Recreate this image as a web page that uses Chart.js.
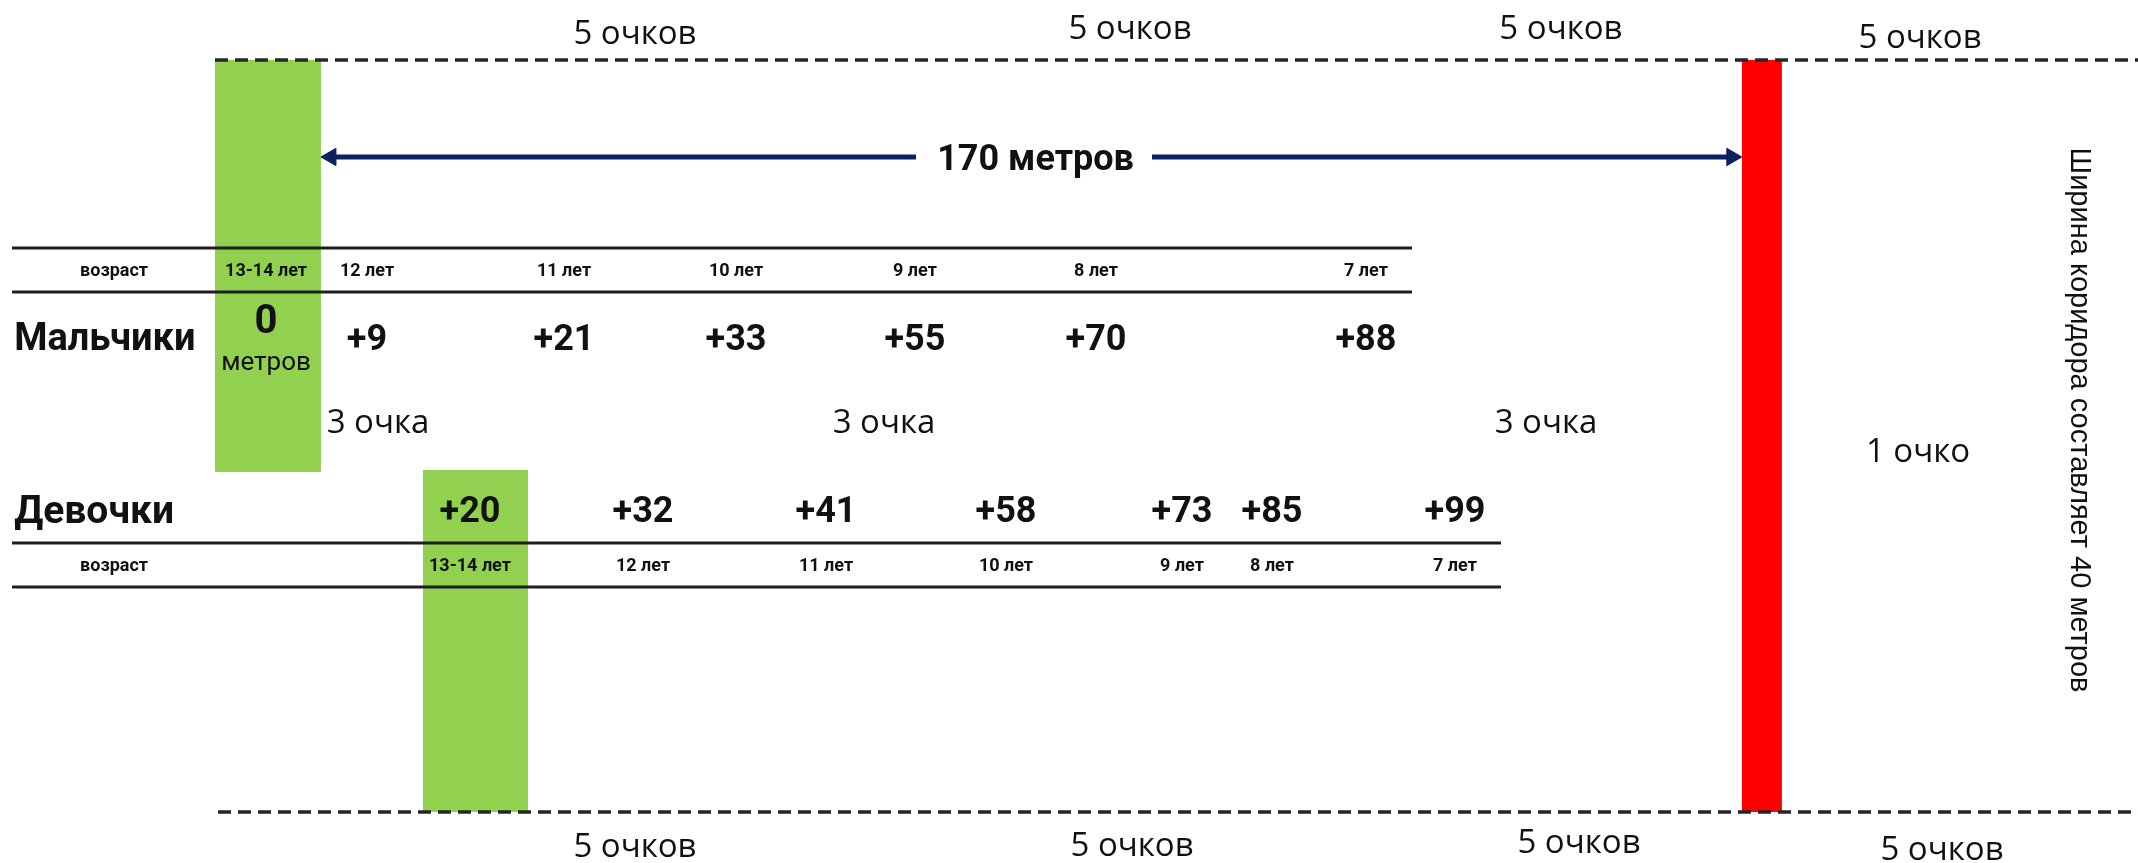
<!DOCTYPE html>
<html lang="ru">
<head>
<meta charset="utf-8">
<title>Коридор</title>
<script src="https://cdn.jsdelivr.net/npm/chart.js@4.4.1/dist/chart.umd.min.js"></script>
<style>
    html, body { margin: 0; padding: 0; background: #ffffff; }
    #wrap { width: 2138px; height: 863px; position: relative; }
</style>
</head>
<body>
<div id="wrap"><canvas id="chart"></canvas></div>
<script>
// ================= DATA =================
const ages = ["13-14 лет", "12 лет", "11 лет", "10 лет", "9 лет", "8 лет", "7 лет"];
const boysBonus = [0, 9, 21, 33, 55, 70, 88];
const girlsBonus = [20, 32, 41, 58, 73, 85, 99];
const groups = ["Мальчики", "Девочки"];
const ageTitle = "возраст";

const distance = 170;       // метров от старта до финиша
const corridorWidth = 40;   // метров

const edgePoints = ["5 очков", "5 очков", "5 очков", "5 очков"];
const middlePoints = ["3 очка", "3 очка", "3 очка"];
const finishPoints = "1 очко";

// ================= LAYOUT (field meters) =================
const view = { xMin: -38.4, xMax: 217.4, yMin: -3.19, yMax: 42.71 };

const boysCols = [-6.57, 5.51, 29.08, 49.66, 71.07, 92.73, 125.03];
const girlsCols = [17.83, 38.53, 60.43, 81.96, 103.02, 113.79, 135.68];
const tableLeft = -36.96;
const nameX = -36.7;
const ageTitleX = -24.76;

const boysRows = { line1: 10.0, ages: 11.17, line2: 12.34, values: 14.73, end: 130.54 };
const girlsRows = { values: 23.88, line1: 25.69, ages: 26.86, line2: 28.03, end: 141.19 };

const boysStart = { x0: -12.68, y1: 21.91 };
const girlsStart = { x0: 12.21, x1: 24.77, y0: 21.81 };
const finishWidth = 4.8;

const arrowY = 5.16;
const arrowGap = [71.2, 99.43];
const arrowHead = 10; // px

const topPointX = [37.57, 96.8, 148.36, 191.32];
const topPointY = [-1.54, -1.81, -1.81, -1.33];
const bottomPointX = [37.57, 97.04, 150.52, 193.95];
const bottomPointY = [41.70, 41.64, 41.49, 41.86];
const middlePointX = [6.83, 67.37, 146.57];
const middlePointY = 19.14;

const GREEN = "#92d050";
const RED = "#ff0000";
const NAVY = "#0b2160";
const INK = "#111111";

// ================= HELPERS =================
function zone(x0, x1, y0, y1, color){
    return {
        data: [{ x: x0, y: y0 }, { x: x1, y: y0 }],
        fill: { value: y1 },
        backgroundColor: color,
        borderColor: "rgba(0,0,0,0)",
        borderWidth: 0,
        pointRadius: 0,
        order: 10
    };
}

function hline(x0, x1, yv, width, color, dash){
    return {
        data: [{ x: x0, y: yv }, { x: x1, y: yv }],
        borderColor: color,
        borderWidth: width,
        borderDash: dash || [],
        pointRadius: 0,
        fill: false,
        order: 5
    };
}

function arrow(x0, x1, headAtStart){
    return {
        data: [{ x: x0, y: arrowY }, { x: x1, y: arrowY }],
        borderColor: NAVY,
        borderWidth: 5,
        fill: false,
        pointStyle: "triangle",
        pointRadius: headAtStart ? [arrowHead, 0] : [0, arrowHead],
        pointRotation: headAtStart ? [-90, 0] : [0, 90],
        pointBackgroundColor: NAVY,
        pointBorderColor: NAVY,
        pointBorderWidth: 1,
        order: 4
    };
}

// ================= TEXTS =================
const texts = [];
const pointFont = '33px "Open Sans"';
const valueFont = 'bold 36px Roboto';
const ageFont = 'bold 18px Roboto';

edgePoints.forEach((t, i) => {
    texts.push({ text: t, x: topPointX[i], y: topPointY[i], font: pointFont });
    texts.push({ text: t, x: bottomPointX[i], y: bottomPointY[i], font: pointFont });
});
middlePoints.forEach((t, i) => {
    texts.push({ text: t, x: middlePointX[i], y: middlePointY, font: pointFont });
});
texts.push({ text: finishPoints, x: 191.08, y: 20.69, font: pointFont });

texts.push({ text: distance + " метров", x: 85.5, y: arrowY, font: 'bold 36px Roboto' });
texts.push({
    text: "Ширина коридора составляет " + corridorWidth + " метров",
    x: 210.4, y: 19.15, font: '29px "Liberation Sans"', rotate: Math.PI / 2
});

// boys table
texts.push({ text: groups[0], x: nameX, y: boysRows.values, font: 'bold 38px Roboto', align: "left" });
texts.push({ text: ageTitle, x: ageTitleX, y: boysRows.ages, font: ageFont });
ages.forEach((a, i) => {
    texts.push({ text: a, x: boysCols[i], y: boysRows.ages, font: ageFont });
    if (boysBonus[i] === 0) {
        texts.push({ text: "0", x: boysCols[i], y: 13.75, font: 'bold 40px Roboto' });
        texts.push({ text: "метров", x: boysCols[i], y: 15.98, font: '26px Roboto' });
    } else {
        texts.push({ text: "+" + boysBonus[i], x: boysCols[i], y: boysRows.values, font: valueFont });
    }
});

// girls table
texts.push({ text: groups[1], x: nameX, y: girlsRows.values, font: 'bold 39px Roboto', align: "left" });
texts.push({ text: ageTitle, x: ageTitleX, y: girlsRows.ages, font: ageFont });
ages.forEach((a, i) => {
    texts.push({ text: a, x: girlsCols[i], y: girlsRows.ages, font: ageFont });
    texts.push({ text: "+" + girlsBonus[i], x: girlsCols[i], y: girlsRows.values, font: valueFont });
});

const labelsPlugin = {
    id: "labels",
    afterDatasetsDraw(chart){
        const { ctx, scales: { x, y } } = chart;
        texts.forEach(t => {
            const size = parseFloat(t.font.match(/(\d+)px/)[1]);
            ctx.save();
            ctx.font = t.font;
            ctx.fillStyle = t.color || INK;
            ctx.textAlign = t.align || "center";
            ctx.textBaseline = "middle";
            // canvas "middle" sits a little above the glyph centre
            const dy = t.rotate ? 0 : size * 0.1;
            ctx.translate(x.getPixelForValue(t.x), y.getPixelForValue(t.y) + dy);
            if (t.rotate) ctx.rotate(t.rotate);
            ctx.fillText(t.text, 0, 0);
            ctx.restore();
        });
    }
};

// ================= CHART =================
const headShift = arrowHead / (2138 / (view.xMax - view.xMin));

const datasets = [
    zone(boysStart.x0, 0, 0, boysStart.y1, GREEN),
    zone(girlsStart.x0, girlsStart.x1, girlsStart.y0, corridorWidth, GREEN),
    zone(distance, distance + finishWidth, 0, corridorWidth, RED),

    hline(boysStart.x0, view.xMax, 0, 3.5, "#262626", [13, 7]),
    hline(-12.32, view.xMax, corridorWidth, 3.5, "#262626", [13, 7]),

    hline(tableLeft, boysRows.end, boysRows.line1, 3, "#1e1e1e"),
    hline(tableLeft, boysRows.end, boysRows.line2, 3, "#1e1e1e"),
    hline(tableLeft, girlsRows.end, girlsRows.line1, 3, "#1e1e1e"),
    hline(tableLeft, girlsRows.end, girlsRows.line2, 3, "#1e1e1e"),

    arrow(0 + headShift, arrowGap[0], true),
    arrow(arrowGap[1], distance - headShift, false)
];

new Chart(document.getElementById("chart"), {
    type: "line",
    data: { datasets: datasets },
    options: {
        responsive: true,
        maintainAspectRatio: false,
        animation: false,
        devicePixelRatio: 1,
        events: [],
        layout: { padding: 0, autoPadding: false },
        elements: { line: { tension: 0 } },
        plugins: {
            legend: { display: false },
            tooltip: { enabled: false }
        },
        scales: {
            x: { type: "linear", min: view.xMin, max: view.xMax, display: false },
            y: { type: "linear", min: view.yMin, max: view.yMax, reverse: true, display: false }
        }
    },
    plugins: [labelsPlugin]
});
</script>
</body>
</html>
